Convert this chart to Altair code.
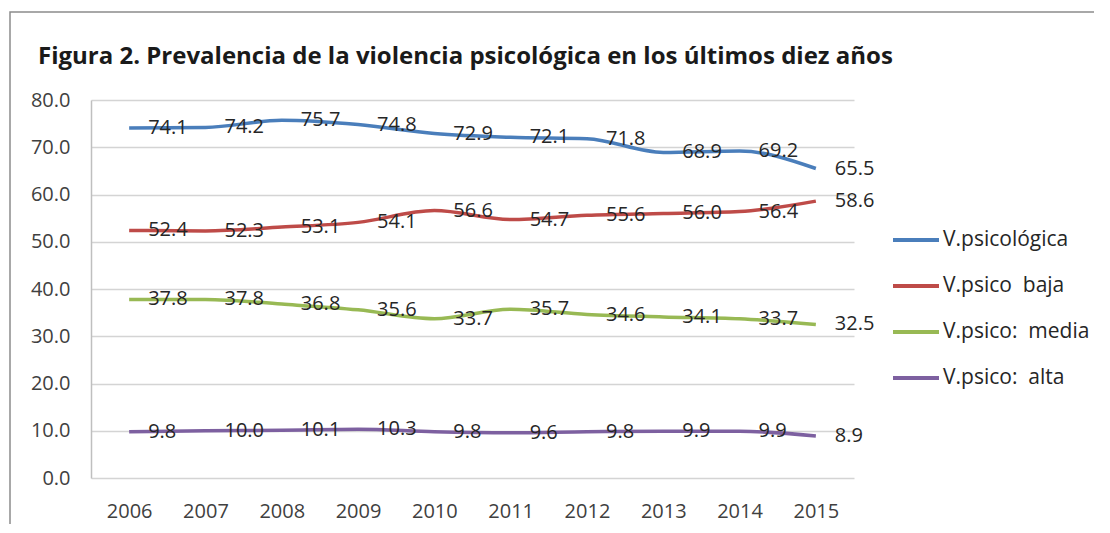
import altair as alt
import pandas as pd

years = ["2006", "2007", "2008", "2009", "2010", "2011", "2012", "2013", "2014", "2015"]
series_names = ["V.psicológica", "V.psico\u00a0\u00a0baja", "V.psico:\u00a0\u00a0media", "V.psico:\u00a0\u00a0alta"]
v_psicologica = [74.1, 74.2, 75.7, 74.8, 72.9, 72.1, 71.8, 68.9, 69.2, 65.5]
v_baja = [52.4, 52.3, 53.1, 54.1, 56.6, 54.7, 55.6, 56.0, 56.4, 58.6]
v_media = [37.8, 37.8, 36.8, 35.6, 33.7, 35.7, 34.6, 34.1, 33.7, 32.5]
v_alta = [9.8, 10.0, 10.1, 10.3, 9.8, 9.6, 9.8, 9.9, 9.9, 8.9]
colors = ["#4A7EBB", "#BE4B48", "#98B954", "#7D60A0"]

rows = []
for name, vals in zip(series_names, [v_psicologica, v_baja, v_media, v_alta]):
    for y, v in zip(years, vals):
        rows.append({"year": y, "value": v, "serie": name})
df = pd.DataFrame(rows)

FONT = "Open Sans"

x = alt.X("year:O", scale=alt.Scale(type="point", padding=0.5),
          axis=alt.Axis(title=None, labelAngle=0, ticks=False, domain=False, grid=False,
                        labelFontSize=20, labelColor="#404040", labelPadding=23, labelFont=FONT))
y = alt.Y("value:Q", scale=alt.Scale(domain=[0, 80], nice=False),
          axis=alt.Axis(title=None, values=list(range(0, 81, 10)), format=".1f", ticks=False,
                        domain=True, domainColor="#bfbfbf", domainWidth=1.5,
                        gridColor="#d4d4d4", gridWidth=1.5,
                        labelFontSize=20, labelColor="#404040", labelPadding=21, labelFont=FONT))

color = alt.Color("serie:N", sort=series_names,
                  scale=alt.Scale(domain=series_names, range=colors),
                  legend=alt.Legend(title=None, orient="none", legendX=800, legendY=115,
                                    symbolType="stroke", symbolSize=2116, symbolStrokeWidth=4,
                                    rowPadding=11, labelFontSize=21, labelFont=FONT,
                                    labelColor="#262626", labelOffset=2))

lines = alt.Chart(df).mark_line(strokeWidth=3.5, interpolate="monotone").encode(
    x=x, y=y, color=color)

labels = alt.Chart(df).mark_text(align="left", baseline="middle", dx=19, fontSize=20,
                                 font=FONT, color="#262626").encode(
    x="year:O", y="value:Q", text=alt.Text("value:Q", format=".1f"))

border = alt.Chart(alt.Data(values=[{}])).mark_rect(
    fill=None, stroke="#8c8c8c", strokeWidth=1.5).encode(
    x=alt.value(-81), y=alt.value(-88), x2=alt.value(1100), y2=alt.value(700))

chart = alt.layer(border, lines, labels).properties(
    width=763, height=378,
    autosize=alt.AutoSizeParams(type="none"),
    padding={"left": 83, "top": 92, "right": 240, "bottom": 46},
    title=alt.TitleParams("Figura 2. Prevalencia de la violencia psicológica en los últimos diez años",
                          anchor="start", frame="group", dx=-53, offset=-82, baseline="bottom",
                          fontSize=24, fontWeight="bold", font=FONT, color="#1a1a1a"),
).configure_view(stroke=None)

chart.save("out.html", embed_options={"renderer": "svg", "actions": False})
